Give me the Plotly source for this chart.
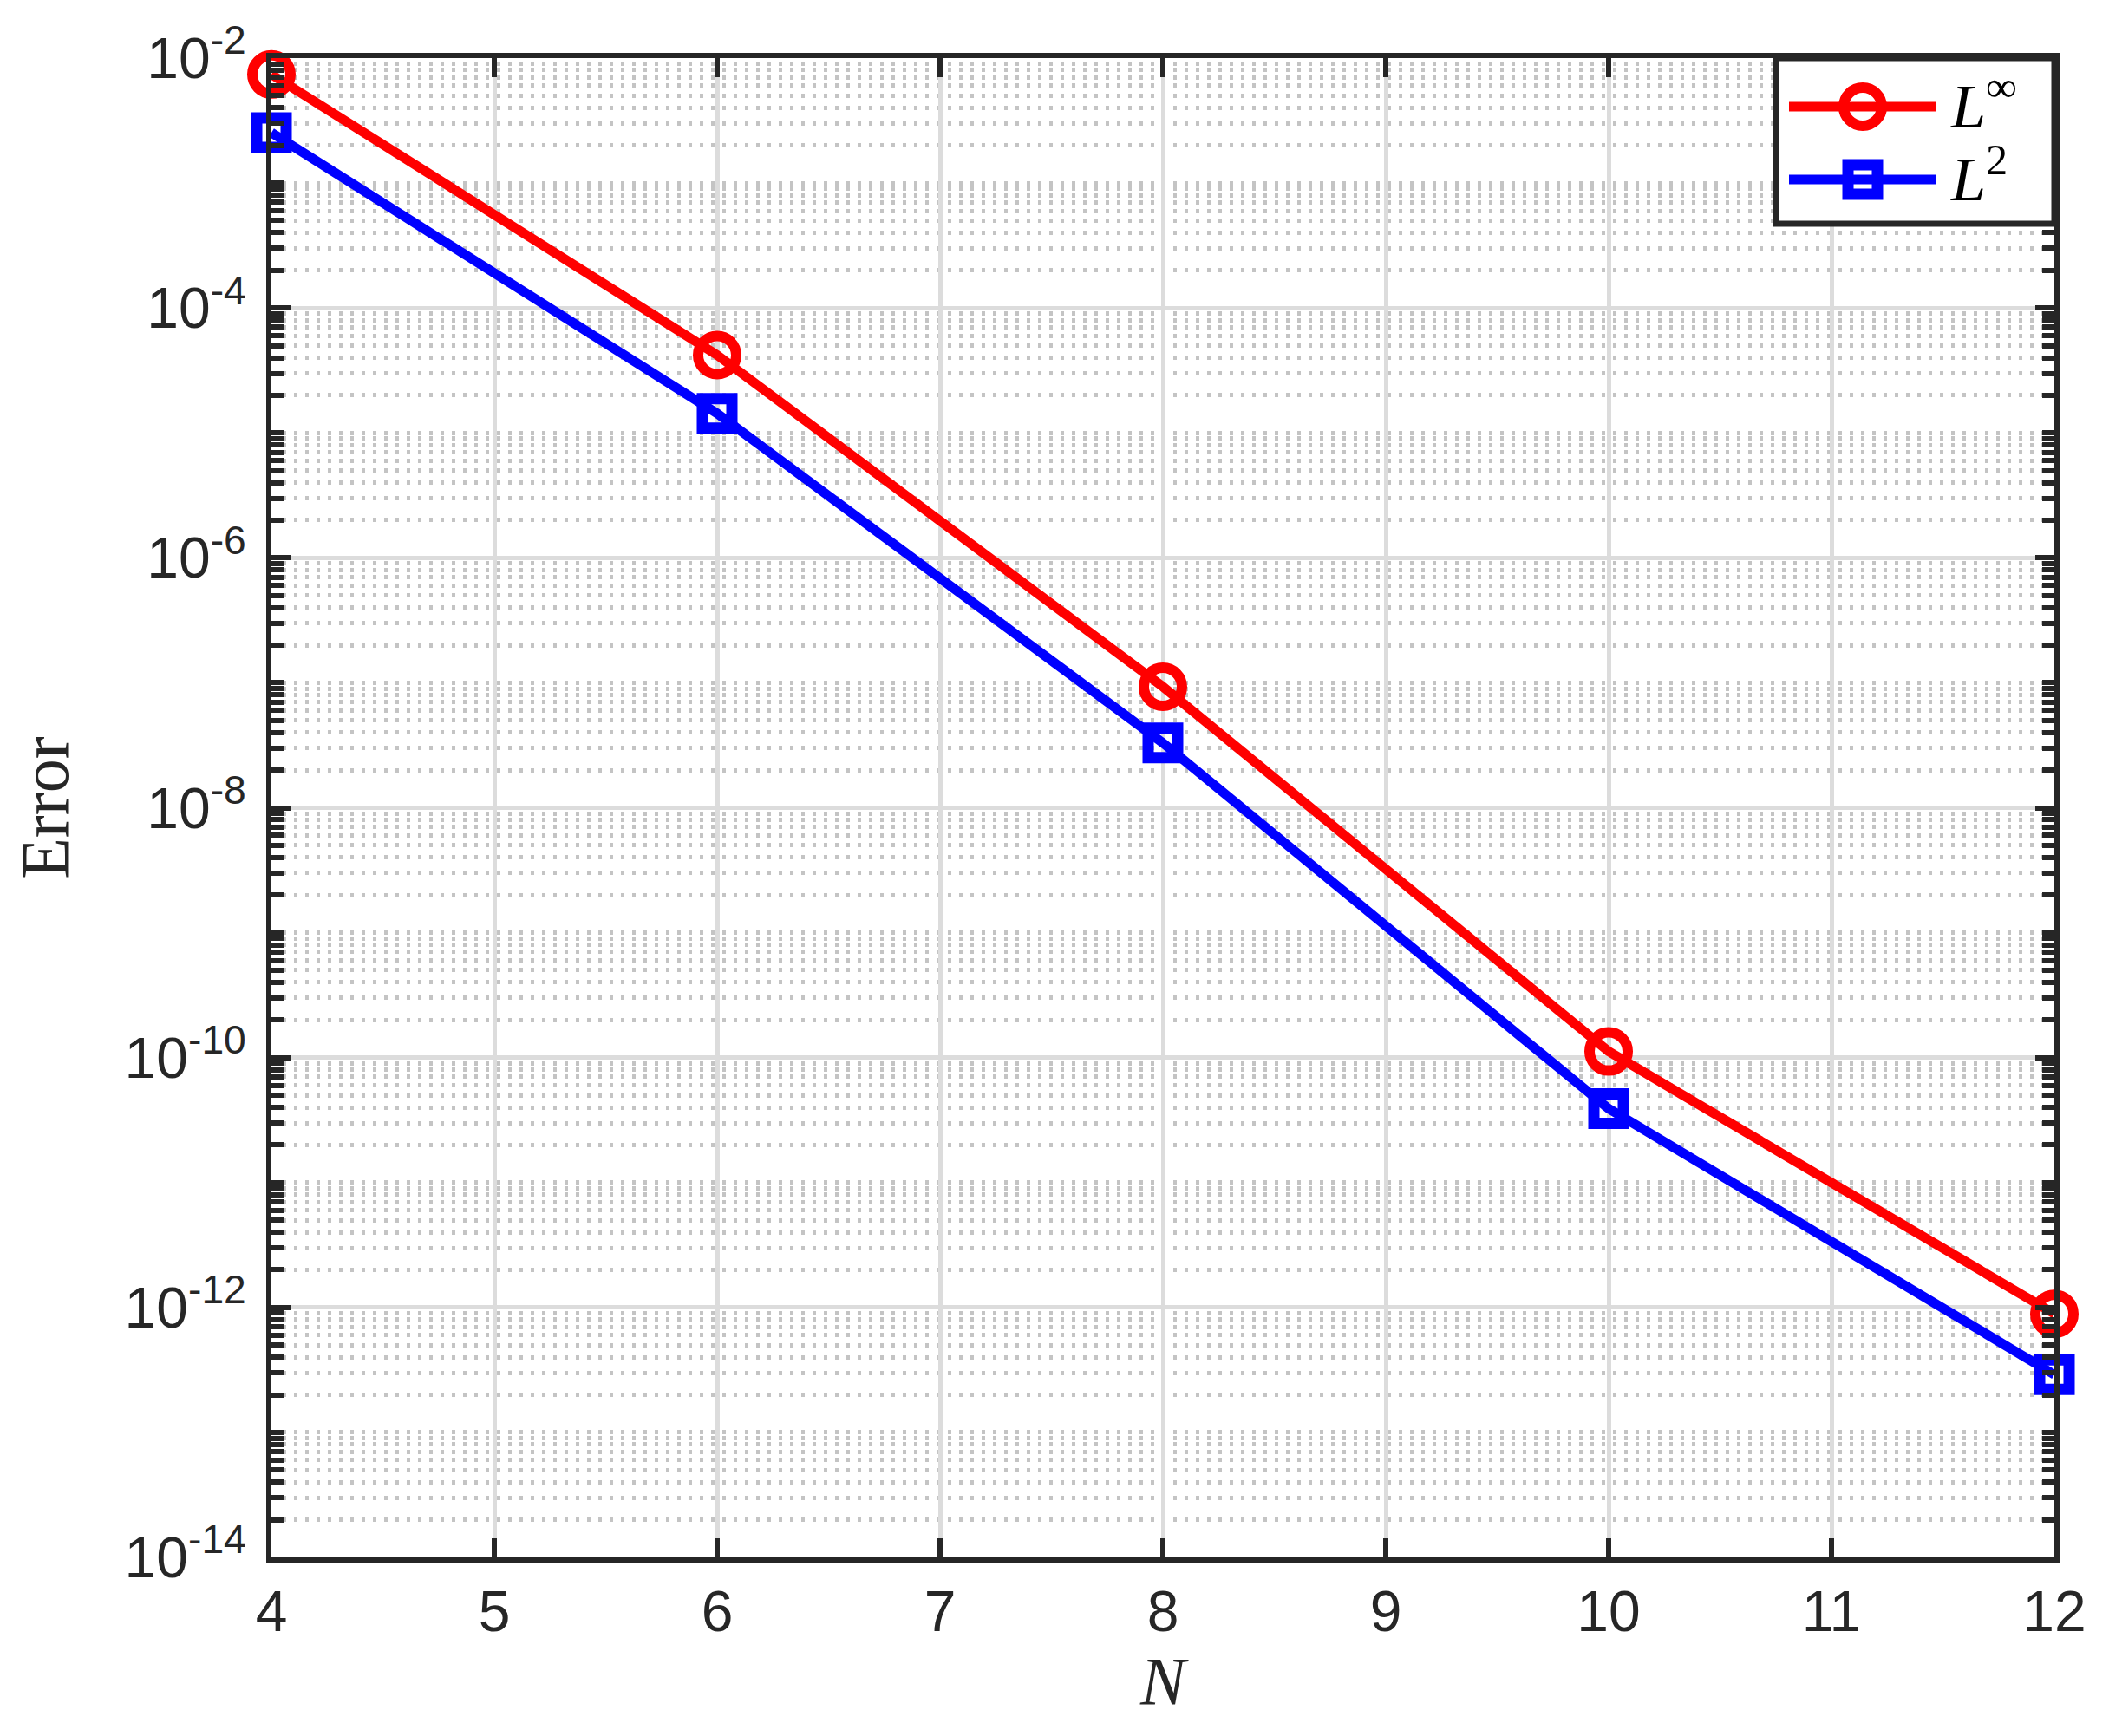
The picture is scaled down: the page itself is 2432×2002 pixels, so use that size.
"""
Convergence plot: max-norm and L2 error against N (log scale).
"""
import plotly.graph_objects as go

# data
N = [4, 6, 8, 10, 12]
err_inf = [7.4e-3, 4.2e-5, 9.3e-8, 1.12e-10, 8.9e-13]
err_l2 = [2.53e-3, 1.43e-5, 3.3e-8, 3.9e-11, 2.9e-13]

x_ticks = [4, 5, 6, 7, 8, 9, 10, 11, 12]
y_exps = [-14, -12, -10, -8, -6, -4, -2]
y_ticks = [10.0 ** e for e in y_exps]
y_ticktext = [f"10<sup>{e}</sup>" for e in y_exps]
y_minor = [k * 10.0 ** e for e in range(-14, -2) for k in range(1, 10)
           if not (k == 1 and e % 2 == 0)]

AX = '#262626'
SANS = 'Liberation Sans, Arial, sans-serif'
SERIF = 'Liberation Serif, Times New Roman, serif'
LW = 11

fig = go.Figure()

fig.add_trace(go.Scatter(
    x=N, y=err_inf, mode='lines+markers', name='L∞',
    line=dict(color='#ff0000', width=LW),
    marker=dict(symbol='circle-open', size=44, color='#ff0000',
                line=dict(width=12, color='#ff0000')),
    cliponaxis=False, showlegend=False
))
fig.add_trace(go.Scatter(
    x=N, y=err_l2, mode='lines+markers', name='L2',
    line=dict(color='#0000ff', width=LW),
    marker=dict(symbol='square-open', size=34, color='#0000ff',
                line=dict(width=13, color='#0000ff')),
    cliponaxis=False, showlegend=False
))

# hand-made legend box (MATLAB style, long line samples)
def px_shape(kind, x0, x1, y0, y1, **kw):
    return dict(type=kind, xref='paper', yref='paper',
                xsizemode='pixel', ysizemode='pixel', xanchor=1, yanchor=1,
                x0=x0, x1=x1, y0=y0, y1=y1, layer='above', **kw)

shapes = [
    px_shape('rect', -321, 0, -191, 0, fillcolor='white',
             line=dict(color=AX, width=7)),
    px_shape('line', -306, -137, -56, -56, line=dict(color='#ff0000', width=LW)),
    px_shape('circle', -243, -199, -78, -34, line=dict(color='#ff0000', width=12)),
    px_shape('line', -306, -137, -140, -140, line=dict(color='#0000ff', width=LW)),
    px_shape('rect', -238, -204, -157, -123, line=dict(color='#0000ff', width=13)),
]

annotations = [
    dict(text='<i>L</i><sup>∞</sup>', xref='paper', yref='paper', x=1, y=1,
         xshift=-122, yshift=-50, xanchor='left', yanchor='middle',
         showarrow=False, font=dict(family=SERIF, size=72, color='black')),
    dict(text='<i>L</i><sup>2</sup>', xref='paper', yref='paper', x=1, y=1,
         xshift=-122, yshift=-134, xanchor='left', yanchor='middle',
         showarrow=False, font=dict(family=SERIF, size=72, color='black')),
]

# page body has an 8px margin, so the figure is shrunk by 16px each way
fig.update_layout(
    width=2416, height=1986,
    margin=dict(l=305, r=55, t=59, b=198),
    plot_bgcolor='white', paper_bgcolor='white',
    font=dict(family=SANS, size=66, color=AX),
    xaxis=dict(
        range=[4, 12], tickvals=x_ticks,
        showline=True, linecolor=AX, linewidth=6, mirror='allticks',
        ticks='inside', ticklen=22, tickwidth=6, tickcolor=AX,
        showgrid=True, gridcolor='#dcdcdc', gridwidth=5,
        zeroline=False,
        title=dict(text='<i>N</i>', font=dict(family=SERIF, size=78, color=AX),
                   standoff=10),
    ),
    yaxis=dict(
        type='log', range=[-14, -2], tickvals=y_ticks, ticktext=y_ticktext,
        showline=True, linecolor=AX, linewidth=6, mirror='allticks',
        ticks='inside', ticklen=22, tickwidth=6, tickcolor=AX,
        ticklabelstandoff=10,
        showgrid=True, gridcolor='#dcdcdc', gridwidth=5,
        zeroline=False,
        minor=dict(tickvals=y_minor, ticks='inside', ticklen=14, tickwidth=6,
                   tickcolor=AX, showgrid=True, gridcolor='#c4c4c4',
                   gridwidth=5, griddash='4px,9px'),
        title=dict(text='Error', font=dict(family=SERIF, size=78, color=AX),
                   standoff=41),
    ),
    shapes=shapes,
    annotations=annotations,
)

fig.write_html("out.html")
